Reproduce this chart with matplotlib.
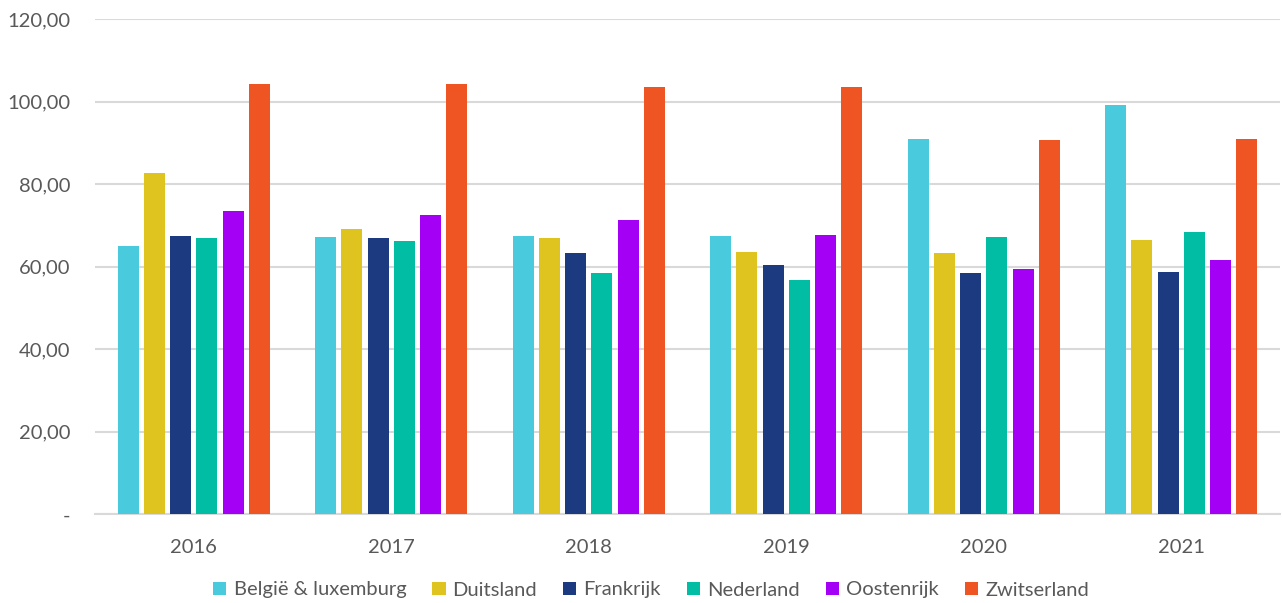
import numpy as np
import matplotlib.pyplot as plt

years = ['2016', '2017', '2018', '2019', '2020', '2021']
countries = ['België & luxemburg', 'Duitsland', 'Frankrijk', 'Nederland', 'Oostenrijk', 'Zwitserland']
colors = ['#4ACBDD', '#DFC41F', '#1C3A80', '#00BDA3', '#A300F5', '#EE5522']

belgie = [65.1, 67.2, 67.4, 67.4, 91.0, 99.2]
duitsland = [82.7, 69.2, 67.1, 63.6, 63.3, 66.6]
frankrijk = [67.5, 67.0, 63.3, 60.4, 58.6, 58.8]
nederland = [67.0, 66.3, 58.5, 56.9, 67.2, 68.5]
oostenrijk = [73.6, 72.6, 71.3, 67.6, 59.4, 61.6]
zwitserland = [104.4, 104.4, 103.5, 103.5, 90.8, 91.0]
series = [belgie, duitsland, frankrijk, nederland, oostenrijk, zwitserland]

plt.rcParams['font.family'] = ['Lato', 'DejaVu Sans']

fig = plt.figure(figsize=(12.82, 6.03), dpi=100)
ax = fig.add_axes([95 / 1282, 88.7 / 603, 1185 / 1282, 495 / 603])

x = np.arange(len(years))
pitch = 0.1327
width = 0.106
for i, (name, vals) in enumerate(zip(countries, series)):
    ax.bar(x + (i - 2.5) * pitch, vals, width, color=colors[i], label=name, zorder=3)

ax.set_xlim(-0.5, 5.5)
ax.set_ylim(0, 120)
yt = np.arange(0, 121, 20)
ax.set_yticks(yt)
ax.set_yticklabels(['-'] + [f'{v:.2f}'.replace('.', ',') for v in yt[1:]])
ax.set_xticks(x)
ax.set_xticklabels(years)
ax.yaxis.grid(True, color='#D9D9D9', linewidth=1.5, zorder=0)
for s in ['top', 'right', 'left']:
    ax.spines[s].set_visible(False)
ax.spines['bottom'].set_color('#D9D9D9')
ax.spines['bottom'].set_linewidth(1.5)
ax.tick_params(axis='both', length=0, labelsize=14.5, labelcolor='#595959')
ax.tick_params(axis='y', pad=18)
ax.tick_params(axis='x', pad=18)

fig.legend(loc='center', bbox_to_anchor=(0.508, 13 / 603), ncol=6, frameon=False,
           fontsize=14.5, handlelength=0.65, handleheight=0.65, handletextpad=0.35,
           columnspacing=1.3, labelcolor='#595959')

fig.savefig('out.png', dpi=100)
